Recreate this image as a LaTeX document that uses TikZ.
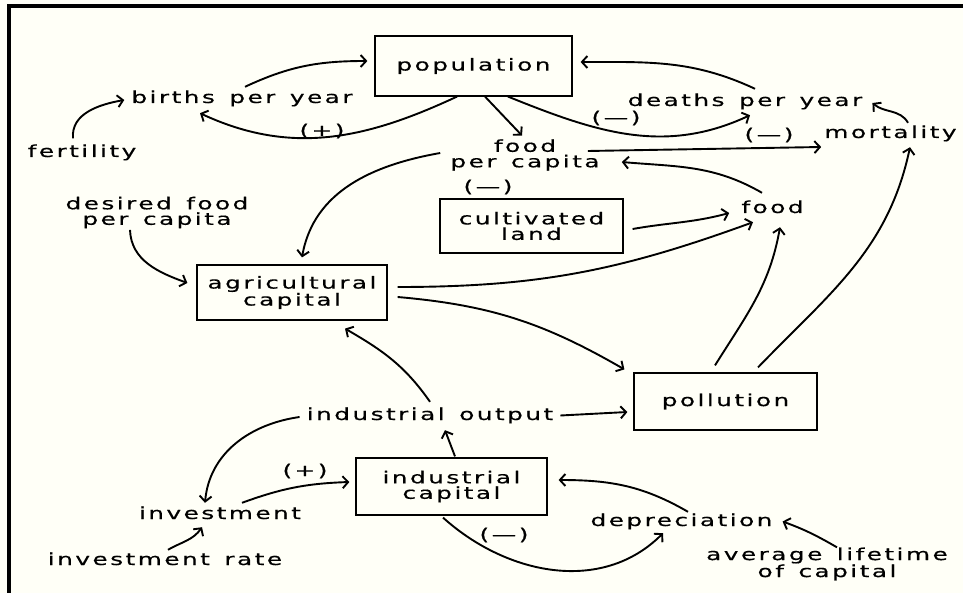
\documentclass[tikz,border=0pt]{standalone}
\usepackage{fontspec}
\setmainfont{DejaVu Sans}[FakeStretch=1.5,LetterSpace=15,FakeBold=0.5,WordSpace=1.4]
\usetikzlibrary{arrows.meta}
\definecolor{bgc}{RGB}{255,255,247}
\newcommand{\dfont}{\fontsize{16.5pt}{15.5pt}\selectfont}
\begin{document}
\begin{tikzpicture}[x=1pt,y=1pt,
  txt/.style={inner sep=0pt,text height=12.5pt,text depth=3.5pt,font=\dfont},
  ml/.style={inner sep=0pt,align=center,font=\dfont},
  lbl/.style={inner sep=0pt,font=\dfont},
  box/.style={draw,line width=1.2pt,inner sep=0pt,align=center,font=\dfont},
  arr/.style={line width=1.9pt,-{Straight Barb[length=5.5pt,width=12pt,line width=1.9pt]}}]
\fill[bgc] (0,0) rectangle (963,-593);
\useasboundingbox (0,0) rectangle (963,-593);
\fill[black] (7,-4) rectangle (963,-8);
\fill[black] (7,-4) rectangle (11,-593);
% boxes
\node[box,minimum width=197pt,minimum height=60pt] (pop) at (473.5,-66) {population};
\node[box,minimum width=190pt,minimum height=55pt] (agri) at (292,-292.5) {agricultural\\capital};
\node[box,minimum width=183pt,minimum height=54pt] (cl) at (531.5,-226) {cultivated\\land};
\node[box,minimum width=183pt,minimum height=57pt] (pol) at (725.5,-401.5) {pollution};
\node[box,minimum width=191pt,minimum height=57pt] (ic) at (451.5,-486.5) {industrial\\capital};
% texts
\node[txt] (births) at (242,-98.5) {births per year};
\node[txt] (fert) at (82,-152.5) {fertility};
\node[txt] (deaths) at (745,-101.5) {deaths per year};
\node[txt] (mort) at (890.5,-133.5) {mortality};
\node[txt] (food) at (772.5,-208.5) {food};
\node[ml] (fpc) at (525,-155) {food\\per capita};
\node[ml] (dfpc) at (157,-212.5) {desired food\\per capita};
\node[txt] (io) at (430,-415.5) {industrial output};
\node[txt] (inv) at (220,-514.5) {investment};
\node[txt] (ir) at (165,-560.5) {investment rate};
\node[txt] (depr) at (681.5,-521.5) {depreciation};
\node[ml] (alc) at (827,-564) {average lifetime\\of capital};
% signs
\node[lbl] (p1) at (322,-131) {(+)};
\node[lbl] (p2) at (305,-471) {(+)};
\node[lbl] (m1) at (488,-187) {(—)};
\node[lbl] (m2) at (616,-118) {(—)};
\node[lbl] (m3) at (769,-135) {(—)};
\node[lbl] (m4) at (504,-535) {(—)};
% connectors
\draw[arr] ([xshift=-9pt,yshift=6pt]fert.north) to[out=95,in=190] ([xshift=-7pt,yshift=-1.5pt]births.west);
\draw[arr] ([xshift=3pt,yshift=3.5pt]births.north) to[out=25,in=180] ([xshift=-7pt,yshift=5pt]pop.west);
\draw[arr] ([xshift=-16.5pt]pop.south) to[out=205,in=335] ([xshift=-42pt,yshift=-6.5pt]births.south);
\draw[arr] ([xshift=11.5pt]pop.south) -- ([xshift=-3pt,yshift=3.5pt]fpc.north);
\draw[arr] ([xshift=34.5pt]pop.south) to[out=-22,in=205] ([xshift=5pt,yshift=-5.5pt]deaths.south);
\draw[arr] ([xshift=10pt,yshift=4.5pt]deaths.north) to[out=155,in=0] ([xshift=8pt,yshift=4pt]pop.east);
\draw[arr] ([xshift=-12pt,yshift=4pt]fpc.east) -- ([xshift=-3pt,yshift=-13.5pt]mort.west);
\draw[arr] ([xshift=17.5pt,yshift=2.5pt]mort.north) to[out=120,in=320] ([xshift=10pt,yshift=-1.5pt]deaths.east);
\draw[arr] ([xshift=-10.5pt,yshift=7.5pt]food.north) to[out=150,in=355] ([xshift=22pt,yshift=-7pt]fpc.east);
\draw[arr] ([xshift=9pt,yshift=-3pt]cl.east) to[out=10,in=195] ([xshift=-12pt,yshift=-4.5pt]food.west);
\draw[arr] ([xshift=10pt,yshift=5.5pt]agri.east) to[out=0,in=200] ([xshift=-19.5pt,yshift=-5.5pt]food.south);
\draw[arr] ([xshift=10pt,yshift=-4.5pt]agri.east) to[out=-5,in=150] ([xshift=-9pt,yshift=3pt]pol.north west);
\draw[arr] ([xshift=-10.5pt,yshift=7pt]pol.north) to[out=58,in=260] ([xshift=7.5pt,yshift=-10.5pt]food.south);
\draw[arr] ([xshift=32.5pt,yshift=5pt]pol.north) to[out=46,in=258] ([xshift=19.5pt,yshift=-5.5pt]mort.south);
\draw[arr] ([xshift=7pt]io.east) -- ([xshift=-6pt,yshift=-10.5pt]pol.west);
\draw[arr] ([xshift=3.5pt,yshift=1pt]ic.north) -- ([xshift=15pt,yshift=-6.5pt]io.south);
\draw[arr] ([yshift=5.5pt]io.north) to[out=125,in=330] ([xshift=53pt,yshift=-8pt]agri.south);
\draw[arr] ([xshift=-7pt,yshift=-1.5pt]io.west) to[out=188,in=85] ([xshift=-15pt,yshift=3.5pt]inv.north);
\draw[arr] ([xshift=22pt,yshift=3.5pt]inv.north) to[out=20,in=182] ([xshift=-6pt,yshift=4.5pt]ic.west);
\draw[arr] ([xshift=3pt,yshift=2.5pt]ir.north) to[out=30,in=235] ([xshift=-18pt,yshift=-4.5pt]inv.south);
\draw[arr] ([xshift=6.5pt,yshift=1.5pt]depr.north) to[out=150,in=0] ([xshift=11pt,yshift=6.5pt]ic.east);
\draw[arr] ([xshift=-8.5pt,yshift=-2pt]ic.south) to[out=-42,in=225] ([xshift=-18.5pt,yshift=-3.5pt]depr.south);
\draw[arr] ([xshift=10pt]alc.north) to[out=150,in=340] ([xshift=10pt]depr.east);
\draw[arr] ([xshift=-10pt,yshift=2pt]fpc.west) to[out=190,in=80] ([xshift=10pt,yshift=7pt]agri.north);
\draw[arr] ([xshift=-27pt,yshift=-1.5pt]dfpc.south) to[out=272,in=160] ([xshift=-9pt,yshift=9.5pt]agri.west);
\end{tikzpicture}
\end{document}
